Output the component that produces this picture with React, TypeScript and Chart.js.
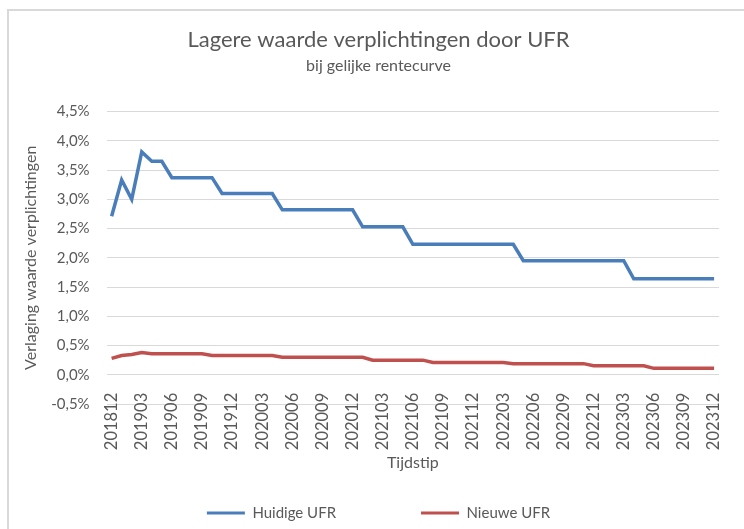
import React, { useEffect, useRef } from "react";
import { Chart, registerables } from "chart.js";

Chart.register(...registerables);

const categories = [
  "201812",
  "201901", "201902", "201903", "201904", "201905", "201906", "201907", "201908", "201909", "201910", "201911", "201912",
  "202001", "202002", "202003", "202004", "202005", "202006", "202007", "202008", "202009", "202010", "202011", "202012",
  "202101", "202102", "202103", "202104", "202105", "202106", "202107", "202108", "202109", "202110", "202111", "202112",
  "202201", "202202", "202203", "202204", "202205", "202206", "202207", "202208", "202209", "202210", "202211", "202212",
  "202301", "202302", "202303", "202304", "202305", "202306", "202307", "202308", "202309", "202310", "202311", "202312",
];

const huidigeUFR = [
  2.71,
  3.33, 3.0, 3.81, 3.65, 3.65, 3.37, 3.37, 3.37, 3.37, 3.37, 3.1, 3.1,
  3.1, 3.1, 3.1, 3.1, 2.82, 2.82, 2.82, 2.82, 2.82, 2.82, 2.82, 2.82,
  2.53, 2.53, 2.53, 2.53, 2.53, 2.23, 2.23, 2.23, 2.23, 2.23, 2.23, 2.23,
  2.23, 2.23, 2.23, 2.23, 1.95, 1.95, 1.95, 1.95, 1.95, 1.95, 1.95, 1.95,
  1.95, 1.95, 1.95, 1.64, 1.64, 1.64, 1.64, 1.64, 1.64, 1.64, 1.64, 1.64,
];

const nieuweUFR = [
  0.28,
  0.33, 0.345, 0.38, 0.36, 0.36, 0.36, 0.36, 0.36, 0.36, 0.33, 0.33, 0.33,
  0.33, 0.33, 0.33, 0.33, 0.3, 0.3, 0.3, 0.3, 0.3, 0.3, 0.3, 0.3,
  0.3, 0.25, 0.25, 0.25, 0.25, 0.25, 0.25, 0.21, 0.21, 0.21, 0.21, 0.21,
  0.21, 0.21, 0.21, 0.19, 0.19, 0.19, 0.19, 0.19, 0.19, 0.19, 0.19, 0.155,
  0.155, 0.155, 0.155, 0.155, 0.155, 0.11, 0.11, 0.11, 0.11, 0.11, 0.11, 0.11,
];

const seriesNames = ["Huidige UFR", "Nieuwe UFR"];
const yMin = -0.5;
const yMax = 4.5;
const yStep = 0.5;

const TEXT = "#595959";
const GRID = "#d9d9d9";
const FONT = "Lato";

export default function App() {
  const ref = useRef<HTMLCanvasElement | null>(null);

  useEffect(() => {
    if (!ref.current) return;
    const chart = new Chart(ref.current, {
      type: "line",
      data: {
        labels: categories,
        datasets: [
          {
            label: seriesNames[0],
            data: huidigeUFR,
            borderColor: "#4a7ebb",
            backgroundColor: "#4a7ebb",
            borderWidth: 3.5,
            pointRadius: 0,
            tension: 0,
          },
          {
            label: seriesNames[1],
            data: nieuweUFR,
            borderColor: "#c0504d",
            backgroundColor: "#c0504d",
            borderWidth: 3.5,
            pointRadius: 0,
            tension: 0,
          },
        ],
      },
      options: {
        responsive: false,
        animation: false,
        layout: { padding: { left: 18, right: 14, top: 0, bottom: -1.5 } },
        plugins: {
          title: {
            display: true,
            text: "Lagere waarde verplichtingen door UFR",
            color: TEXT,
            font: { family: FONT, size: 22, weight: "normal" },
            padding: { top: 16, bottom: 3 },
          },
          subtitle: {
            display: true,
            text: "bij gelijke rentecurve",
            color: TEXT,
            font: { family: FONT, size: 16, weight: "normal" },
            padding: { top: 0, bottom: 36 },
          },
          legend: {
            position: "bottom",
            title: { display: true, text: " ", padding: { top: 4.5, bottom: 0 }, font: { size: 10 } },
            labels: {
              color: TEXT,
              font: { family: FONT, size: 15 },
              boxWidth: 38,
              boxHeight: 3,
              padding: 85,
              generateLabels: (c: any) =>
                Chart.defaults.plugins.legend.labels.generateLabels(c).map((l: any) => ({
                  ...l,
                  lineWidth: 0,
                  fillStyle: l.strokeStyle,
                })),
            },
          },
          tooltip: { enabled: false },
        },
        scales: {
          x: {
            type: "category",
            offset: true,
            position: { y: 0 } as any,
            grid: { display: false },
            border: { display: false },
            ticks: {
              autoSkip: false,
              maxRotation: 90,
              minRotation: 90,
              padding: 10,
              color: TEXT,
              font: { family: FONT, size: 16.5 },
              callback: (_v: any, i: number) => (i % 3 === 0 ? categories[i] : ""),
            },
            title: {
              display: true,
              text: "Tijdstip",
              color: TEXT,
              font: { family: FONT, size: 16 },
              padding: { top: -7, bottom: 0 },
            },
          },
          y: {
            min: yMin,
            max: yMax,
            grid: { color: GRID, lineWidth: 1, drawTicks: false },
            border: { display: false },
            ticks: {
              stepSize: yStep,
              padding: 17,
              color: TEXT,
              font: { family: FONT, size: 15 },
              callback: (v: any) => Number(v).toFixed(1).replace(".", ",") + "%",
            },
            title: {
              display: true,
              text: "Verlaging waarde verplichtingen",
              color: TEXT,
              font: { family: FONT, size: 16 },
              padding: { top: -6, bottom: -6 },
            },
          },
        },
      },
    });
    return () => chart.destroy();
  }, []);

  return (
    <div
      style={{
        position: "absolute",
        left: 7,
        top: 9,
        width: 737,
        height: 520,
        boxSizing: "border-box",
        borderLeft: "2px solid #d9d9d9",
        borderTop: "2px solid #d9d9d9",
        overflow: "hidden",
        background: "#fff",
      }}
    >
      <canvas ref={ref} width={735} height={518} style={{ display: "block", width: 735, height: 518 }} />
    </div>
  );
}
